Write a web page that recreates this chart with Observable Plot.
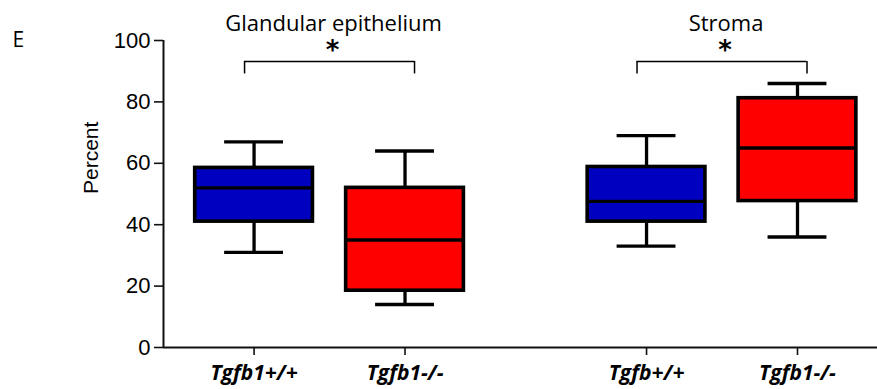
<!DOCTYPE html>
<html>
<head>
<meta charset="utf-8">
<script src="https://cdn.jsdelivr.net/npm/d3@7"></script>
<script src="https://cdn.jsdelivr.net/npm/@observablehq/plot@0.6"></script>
<style>
  html, body { margin: 0; padding: 0; background: #fff; }
  #chart { width: 877px; height: 389px; }
</style>
</head>
<body>
<div id="chart"></div>
<script>
// Tissue compartment and genotype of each box
const panel = ["Glandular epithelium", "Glandular epithelium", "Stroma", "Stroma"];
const genotype = ["Tgfb1+/+", "Tgfb1-/-", "Tgfb+/+", "Tgfb1-/-"];
const allele = ["+/+", "-/-", "+/+", "-/-"];

// Box-and-whisker summaries (percent)
const whiskerLow = [31, 14, 33, 36];
const quartile1 = [41, 18.5, 41, 47.7];
const median = [52, 35, 47.6, 65];
const quartile3 = [58.5, 52, 58.8, 81.2];
const whiskerHigh = [67, 64, 69, 86];

// Significance between genotypes within each compartment
const panels = ["Glandular epithelium", "Stroma"];
const significance = ["*", "*"];

const yTicks = [0, 20, 40, 60, 80, 100];

// Layout: boxes one unit apart inside a compartment, compartments 2.6 units apart
const panelGap = 2.6;
const boxHalf = 0.39;
const capHalf = 0.195;
const bracketHalf = 0.563;
const bracketTop = 93.2, bracketFoot = 89.1;

const rows = genotype.map((g, i) => {
  const p = panels.indexOf(panel[i]);
  const within = panel.slice(0, i).filter(d => d === panel[i]).length;
  return {
    panel: panel[i], genotype: g, allele: allele[i],
    pos: p * panelGap + within,
    lo: whiskerLow[i], q1: quartile1[i], med: median[i], q3: quartile3[i], hi: whiskerHigh[i]
  };
});

const panelRows = panels.map((name, p) => {
  const members = rows.filter(r => r.panel === name);
  return { name, sig: significance[p], center: d3.mean(members, r => r.pos) };
});

const xDomain = [-0.6, 4.13];
const tickLabel = new Map(rows.map(r => [r.pos, r.genotype]));

const chart = Plot.plot({
  width: 877,
  height: 389,
  marginLeft: 163,
  marginRight: 0,
  marginTop: 40,
  marginBottom: 42,
  style: { fontFamily: "Open Sans", fontSize: "22px", background: "#fff", overflow: "visible" },
  x: { type: "linear", domain: xDomain },
  y: { domain: [0, 100] },
  color: { domain: ["+/+", "-/-"], range: ["#0000c0", "#ff0000"] },
  marks: [
    // axis lines
    Plot.ruleY([0], { stroke: "#111", strokeWidth: 2 }),
    Plot.ruleX([xDomain[0]], { y1: 0, y2: 100, stroke: "#111", strokeWidth: 2 }),
    Plot.axisY(yTicks, {
      tickSize: 9, tickPadding: 4, strokeWidth: 1.6, stroke: "#111",
      fontSize: 22, fontFamily: "Liberation Sans", label: null
    }),
    Plot.axisX(rows.map(r => r.pos), {
      tickSize: 8, tickPadding: 10, strokeWidth: 1.6, stroke: "#111",
      tickFormat: v => tickLabel.get(v),
      fontSize: 21, fontWeight: "bold", fontStyle: "italic", fontFamily: "Open Sans", label: null
    }),
    Plot.text(["Percent"], {
      frameAnchor: "left", dx: -72, rotate: -90, fontSize: 21,
      fontFamily: "Liberation Sans", lineAnchor: "middle"
    }),
    Plot.text(["E"], {
      frameAnchor: "top-left", dx: -151, textAnchor: "start", lineAnchor: "middle",
      fontSize: 21, fontFamily: "Open Sans"
    }),
    // whiskers
    Plot.ruleX(rows, { x: "pos", y1: "q3", y2: "hi", stroke: "black", strokeWidth: 3.3 }),
    Plot.ruleX(rows, { x: "pos", y1: "lo", y2: "q1", stroke: "black", strokeWidth: 3.3 }),
    Plot.ruleY(rows, { y: "hi", x1: r => r.pos - capHalf, x2: r => r.pos + capHalf, stroke: "black", strokeWidth: 3.3 }),
    Plot.ruleY(rows, { y: "lo", x1: r => r.pos - capHalf, x2: r => r.pos + capHalf, stroke: "black", strokeWidth: 3.3 }),
    // boxes and medians
    Plot.rect(rows, {
      x1: r => r.pos - boxHalf, x2: r => r.pos + boxHalf, y1: "q1", y2: "q3",
      fill: "allele", stroke: "black", strokeWidth: 3.6
    }),
    Plot.ruleY(rows, { y: "med", x1: r => r.pos - boxHalf, x2: r => r.pos + boxHalf, stroke: "black", strokeWidth: 3.4 }),
    // significance brackets
    Plot.ruleY(panelRows, { y: bracketTop, x1: d => d.center - bracketHalf, x2: d => d.center + bracketHalf, stroke: "black", strokeWidth: 1.5 }),
    Plot.ruleX(panelRows, { x: d => d.center - bracketHalf, y1: bracketFoot, y2: bracketTop, stroke: "black", strokeWidth: 1.5 }),
    Plot.ruleX(panelRows, { x: d => d.center + bracketHalf, y1: bracketFoot, y2: bracketTop, stroke: "black", strokeWidth: 1.5 }),
    Plot.text(panelRows, {
      x: "center", text: "sig", frameAnchor: "top", lineAnchor: "middle", dy: 10,
      fontSize: 26, fontWeight: "bold", fontFamily: "DejaVu Sans", dx: 3
    }),
    // compartment titles
    Plot.text(panelRows, {
      x: "center", text: "name", frameAnchor: "top", lineAnchor: "bottom", dy: -10,
      fontSize: 22, fontFamily: "Open Sans", dx: 4
    })
  ]
});

document.getElementById("chart").appendChild(chart);
</script>
</body>
</html>
